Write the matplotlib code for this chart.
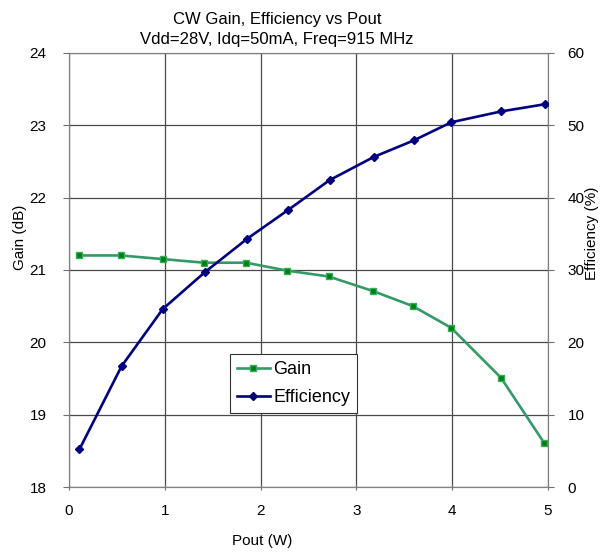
import matplotlib
matplotlib.use("Agg")
import matplotlib.pyplot as plt

plt.rcParams['font.family'] = ['Liberation Sans', 'DejaVu Sans']

pout_gain = [0.11, 0.54, 0.98, 1.41, 1.85, 2.28, 2.71, 3.17, 3.59, 3.99, 4.51, 4.96]
gain = [21.2, 21.2, 21.15, 21.1, 21.1, 20.99, 20.91, 20.71, 20.5, 20.2, 19.51, 18.61]

pout_eff = [0.11, 0.55, 0.98, 1.42, 1.86, 2.29, 2.72, 3.18, 3.6, 3.99, 4.51, 4.97]
eff = [5.2, 16.7, 24.6, 29.7, 34.3, 38.3, 42.4, 45.6, 47.9, 50.4, 51.9, 52.9]

fig = plt.figure(figsize=(6.15, 5.56), dpi=100)
ax = fig.add_axes([0.112, 0.124, 0.779, 0.781])
ax2 = ax.twinx()

ax.set_xlim(0, 5)
ax.set_ylim(18, 24)
ax2.set_ylim(0, 60)
ax.set_xticks(range(0, 6))
ax.set_yticks(range(18, 25))
ax2.set_yticks(range(0, 61, 10))
ax.grid(True, color='#4a4a4a', linewidth=0.9)
ax.set_axisbelow(True)

l1, = ax.plot(pout_gain, gain, color='#339966', linewidth=1.9, marker='s',
              markersize=4, markerfacecolor='#008000', markeredgecolor='#33aa66',
              label='Gain', zorder=3)
l2, = ax2.plot(pout_eff, eff, color='#000080', linewidth=1.9, marker='D',
               markersize=3.8, markerfacecolor='#000080', label='Efficiency', zorder=3)

ax.tick_params(axis='y', labelsize=11, direction='out', length=4, pad=12, color='#707070')
ax2.tick_params(axis='y', labelsize=11, direction='out', length=4, pad=10, color='#707070')
ax.tick_params(axis='x', labelsize=11, direction='inout', length=5, pad=10, color='#707070')
for a in (ax, ax2):
    for s in a.spines.values():
        s.set_color('#808080')

ax.set_xlabel('Pout (W)', fontsize=11)
ax.set_ylabel('Gain (dB)', fontsize=11)
ax2.set_ylabel('Efficiency (%)', fontsize=11)
ax.xaxis.set_label_coords(0.403, -0.108)
ax.yaxis.set_label_coords(-0.088, 0.576)
ax2.yaxis.set_label_coords(1.078, 0.585)

ax.set_title('CW Gain, Efficiency vs Pout\nVdd=28V, Idq=50mA, Freq=915 MHz', fontsize=12,
             linespacing=1.45, x=0.434, pad=6)

leg = ax2.legend(handles=[l1, l2], loc='upper left', bbox_to_anchor=(0.336, 0.306),
                 borderaxespad=0, fontsize=13, frameon=True, fancybox=False,
                 edgecolor='#333333', framealpha=1, handlelength=1.8, handletextpad=0.2,
                 borderpad=0.4, labelspacing=0.6)
leg.get_frame().set_linewidth(0.8)

fig.savefig('out.png', dpi=100)
